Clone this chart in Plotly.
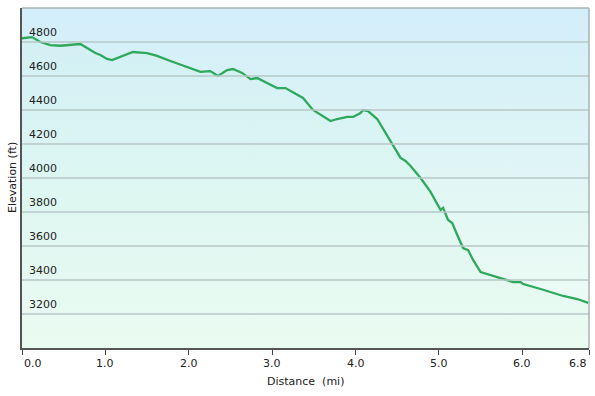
import plotly.graph_objects as go

# Data
distance_mi = [0.00, 0.05, 0.12, 0.22, 0.34, 0.46, 0.58, 0.70, 0.78, 0.88, 0.94, 1.02, 1.08, 1.18,
               1.33, 1.50, 1.62, 1.78, 1.93, 2.05, 2.14, 2.26, 2.35, 2.46, 2.53, 2.64, 2.74, 2.82,
               2.94, 3.06, 3.16, 3.25, 3.37, 3.49, 3.58, 3.70, 3.78, 3.90, 3.97, 4.06, 4.09, 4.15,
               4.26, 4.33, 4.39, 4.42, 4.54, 4.60, 4.66, 4.78, 4.90, 5.02, 5.05, 5.11, 5.16, 5.22,
               5.29, 5.35, 5.41, 5.50, 5.62, 5.77, 5.89, 5.98, 6.01, 6.22, 6.49, 6.66, 6.79]
elevation_ft = [4822, 4824, 4829, 4800, 4782, 4778, 4782, 4788, 4765, 4735, 4724, 4700, 4694, 4712,
                4741, 4735, 4718, 4688, 4662, 4641, 4624, 4629, 4600, 4635, 4641, 4618, 4582, 4588,
                4559, 4529, 4529, 4506, 4471, 4400, 4371, 4335, 4347, 4359, 4359, 4382, 4400, 4394,
                4347, 4290, 4235, 4212, 4118, 4100, 4071, 4000, 3918, 3812, 3824, 3753, 3735, 3665,
                3588, 3576, 3518, 3447, 3429, 3406, 3388, 3388, 3376, 3347, 3306, 3288, 3265]

x_tick_vals = [0.0, 1.0, 2.0, 3.0, 4.0, 5.0, 6.0, 6.8]
x_tick_text = ["0.0", "1.0", "2.0", "3.0", "4.0", "5.0", "6.0", "6.8"]
y_tick_vals = [3200, 3400, 3600, 3800, 4000, 4200, 4400, 4600, 4800]
y_tick_text = ["3200", "3400", "3600", "3800", "4000", "4200", "4400", "4600", "4800"]

X_MIN, X_MAX = 0.0, 6.8
Y_MIN, Y_MAX = 3000, 5000

FONT = "DejaVu Sans"
TXT = "#222222"

fig = go.Figure()

# background gradient
fig.add_trace(go.Scatter(
    x=[X_MIN, X_MAX], y=[Y_MAX, Y_MAX], mode="lines", line=dict(width=0),
    fill="tozeroy",
    fillgradient=dict(type="vertical", start=Y_MIN, stop=Y_MAX,
                      colorscale=[[0, "#f0fcf5"], [0.45, "#e2f7f4"], [1, "#d2eefa"]]),
    hoverinfo="skip", showlegend=False))

# elevation profile with a faint green fill
fig.add_trace(go.Scatter(
    x=distance_mi, y=elevation_ft, mode="lines",
    line=dict(color="#2ea85a", width=2.3),
    fill="tozeroy", fillcolor="rgba(200,248,220,0.12)",
    showlegend=False))

# x tick labels (first/last kept inside the plot)
for i, (v, t) in enumerate(zip(x_tick_vals, x_tick_text)):
    anchor = "left" if i == 0 else ("right" if i == len(x_tick_vals) - 1 else "center")
    fig.add_annotation(x=v, y=0, xref="x", yref="paper", text=t, showarrow=False,
                       xanchor=anchor, yanchor="top", yshift=-7,
                       font=dict(family=FONT, size=11, color=TXT))

# y tick labels just above their grid lines, inside the plot
for v, t in zip(y_tick_vals, y_tick_text):
    fig.add_annotation(x=0, y=v, xref="paper", yref="y", text=t, showarrow=False,
                       xanchor="left", yanchor="bottom", xshift=5, yshift=1,
                       font=dict(family=FONT, size=11, color=TXT))

# grid lines above the fills
shapes = [dict(type="line", xref="paper", yref="y", x0=0, x1=1, y0=v, y1=v,
               layer="above", line=dict(color="#b7c7c7", width=1.5))
          for v in y_tick_vals]
shapes += [
    dict(type="line", xref="paper", yref="paper", x0=0, x1=1, y0=1, y1=1,
         line=dict(color="#a9b3b6", width=1.5)),
    dict(type="line", xref="paper", yref="paper", x0=1, x1=1, y0=0, y1=1,
         line=dict(color="#a9b3b6", width=1.5)),
]

# axis titles
fig.add_annotation(x=0.5, y=0, xref="paper", yref="paper", text="Distance  (mi)",
                   showarrow=False, xanchor="center", yanchor="middle", yshift=-33,
                   font=dict(family=FONT, size=11, color=TXT))
fig.add_annotation(x=0, y=0.5, xref="paper", yref="paper", text="Elevation (ft)",
                   showarrow=False, xanchor="center", yanchor="middle", xshift=-10,
                   textangle=-90, font=dict(family=FONT, size=11, color=TXT))

fig.update_layout(
    width=595, height=396,
    margin=dict(l=22, r=6, t=8, b=48, autoexpand=False),
    paper_bgcolor="white",
    plot_bgcolor="#e6f7f5",
    font=dict(family=FONT, size=11, color=TXT),
    xaxis=dict(
        range=[X_MIN, X_MAX], tickvals=x_tick_vals, showticklabels=False,
        ticks="outside", ticklen=5, tickcolor="#444", tickwidth=1,
        showgrid=False, zeroline=False, automargin=False,
        showline=True, linecolor="#555", linewidth=2, layer="above traces",
    ),
    yaxis=dict(
        range=[Y_MIN, Y_MAX], tickvals=y_tick_vals, showticklabels=False, ticks="",
        showgrid=False, zeroline=False, automargin=False,
        showline=True, linecolor="#555", linewidth=2, layer="above traces",
    ),
    shapes=shapes,
)

fig.write_html("out.html", config={"displayModeBar": False},
               post_script="document.body.style.margin='0';document.body.style.overflow='hidden';")
